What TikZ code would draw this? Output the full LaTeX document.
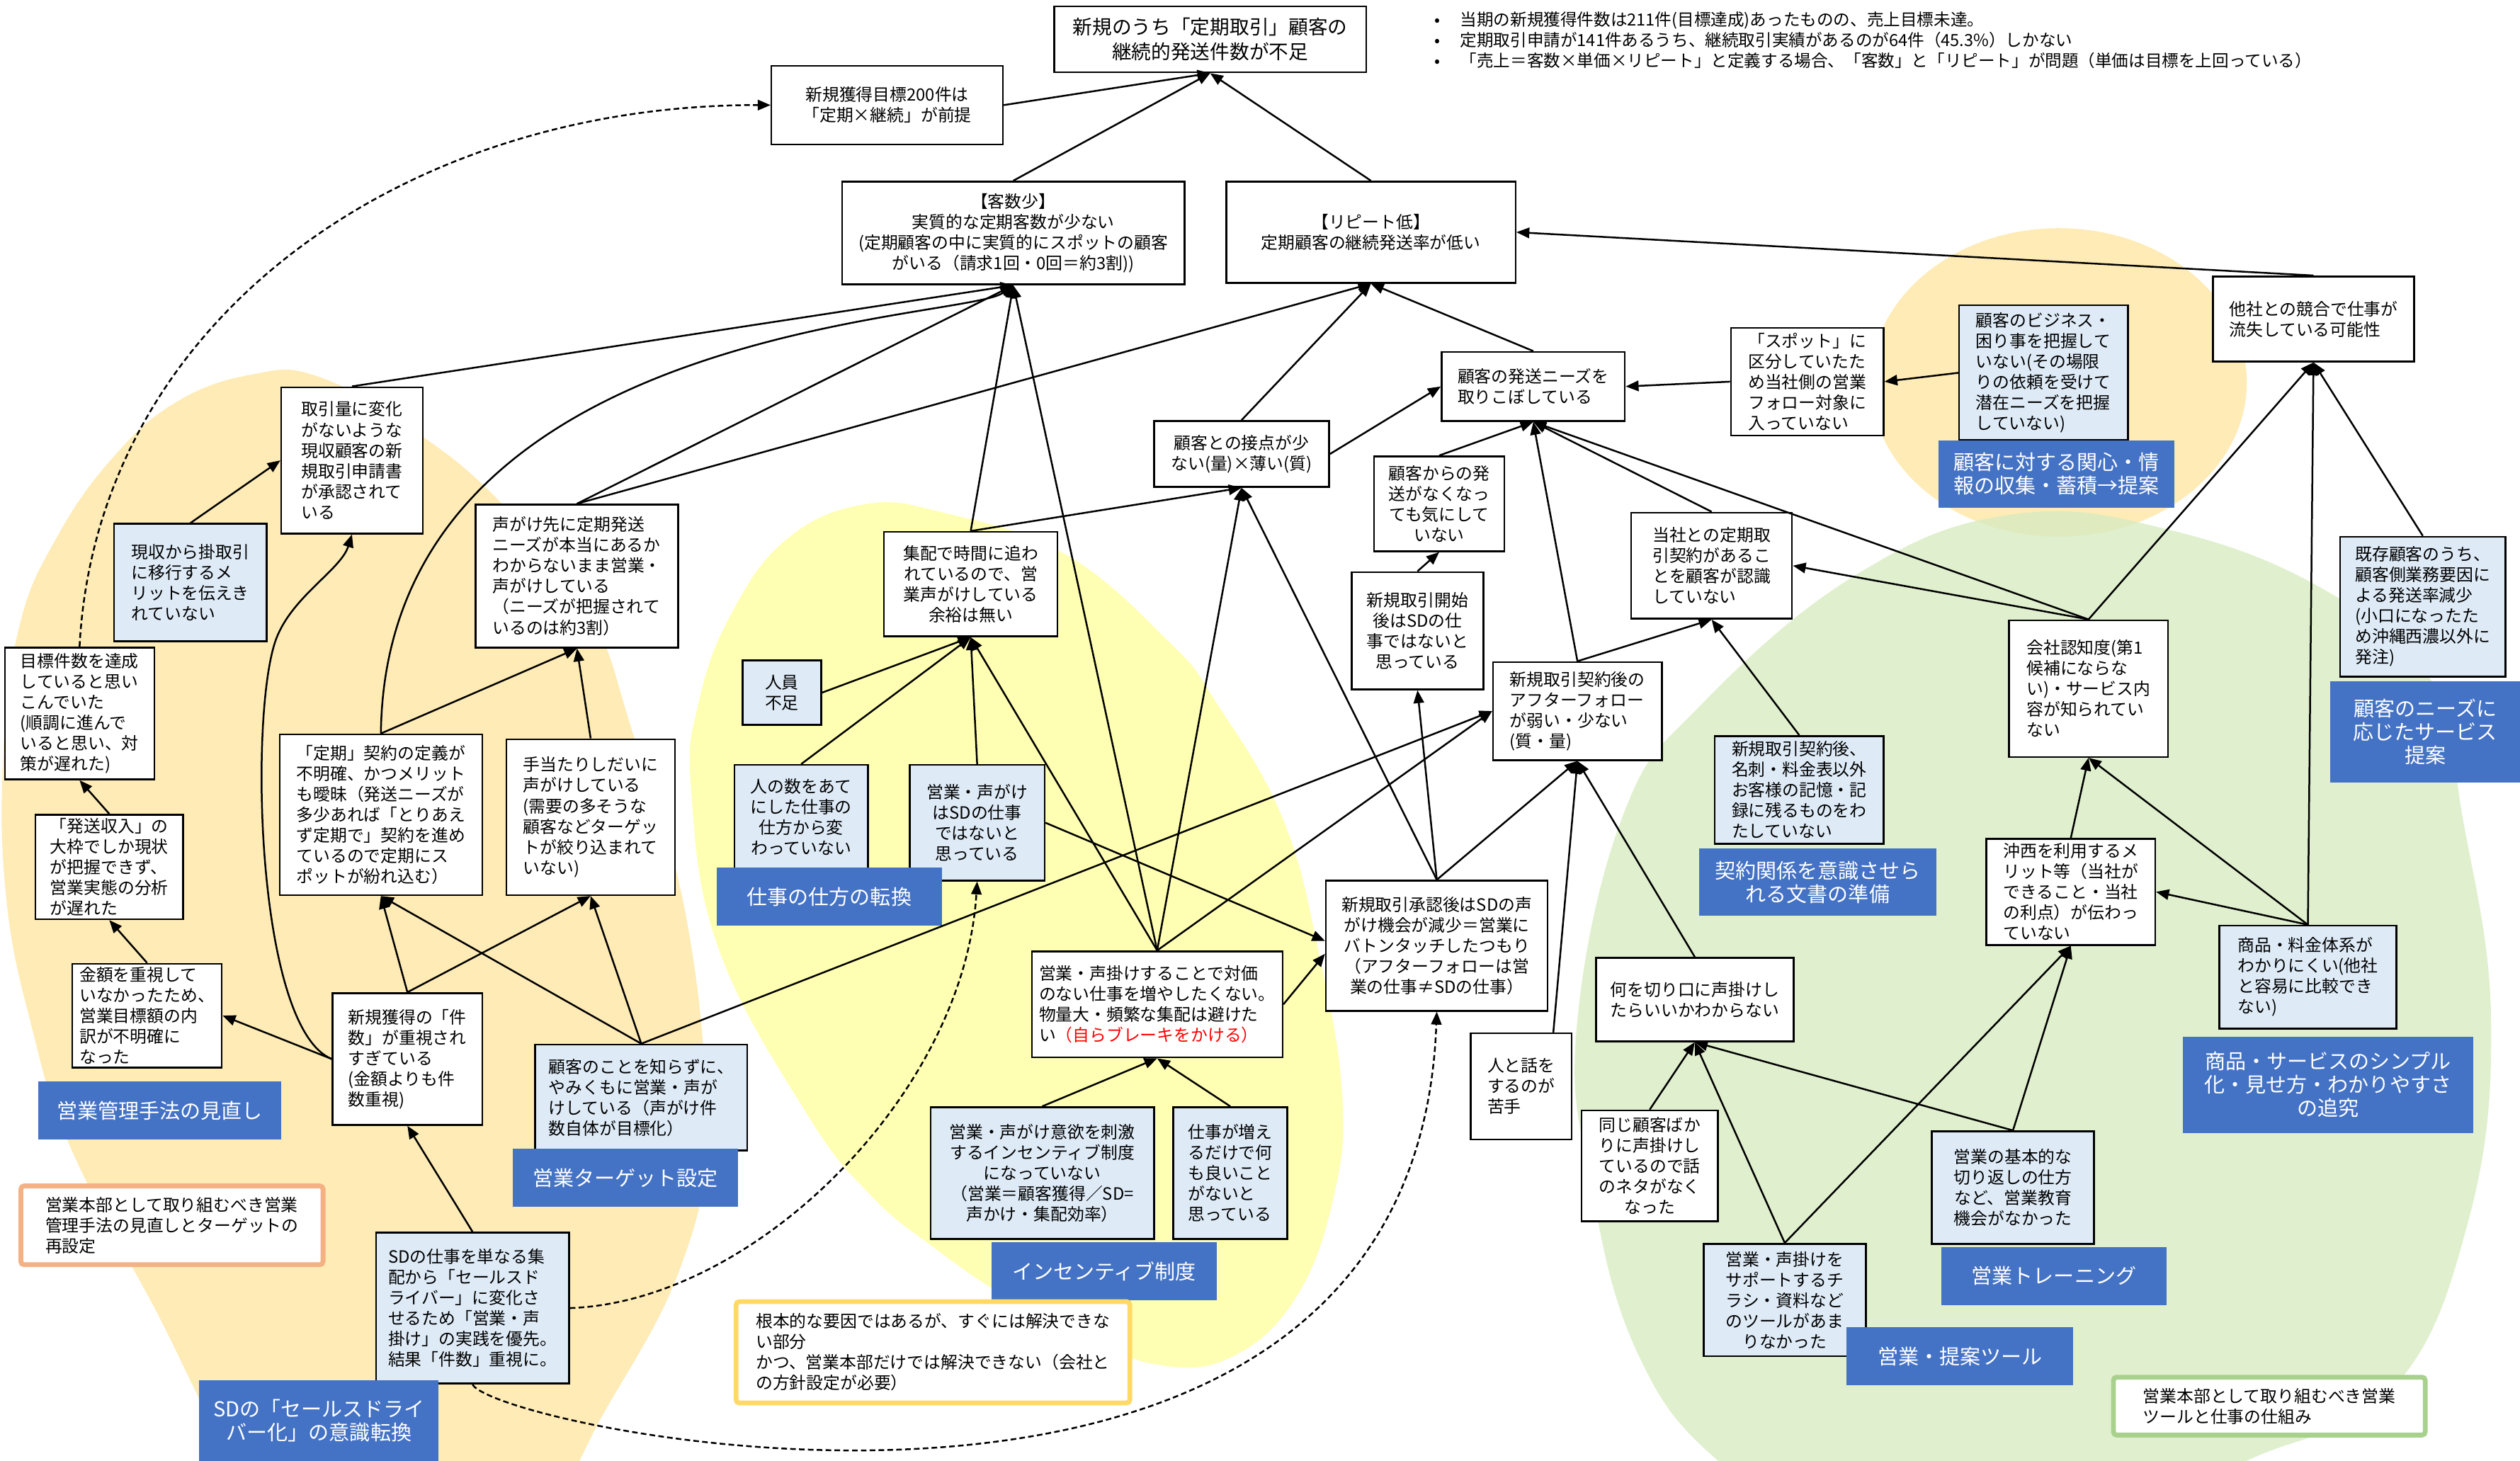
\documentclass[tikz,border=0pt]{standalone}
\usepackage{fontspec}
\setmainfont{Noto Sans CJK JP}
\usetikzlibrary{arrows.meta}
\definecolor{factorblue}{HTML}{DEEBF7}
\definecolor{measureblue}{HTML}{4472C4}
\definecolor{blobgold}{HTML}{FEEBB6}
\definecolor{blobyellow}{HTML}{FFFFB3}
\definecolor{blobgreen}{HTML}{D8ECC2}
\definecolor{memoorange}{HTML}{F4B183}
\definecolor{memoyellow}{HTML}{FFD966}
\definecolor{memogreen}{HTML}{A9D18E}
\tikzset{
  cause/.style={
    draw=black, line width=1.1pt, fill=white,
    inner sep=2pt, align=left,
    font=\fontsize{10.5}{12.8}\selectfont
  },
  factor/.style={cause, fill=factorblue},
  measure/.style={
    fill=measureblue, text=white, inner sep=2pt, align=center,
    font=\fontsize{12.8}{14.6}\selectfont
  },
  memo/.style={
    draw=#1, line width=3pt, fill=white, rounded corners=2pt,
    inner sep=3pt, align=left,
    font=\fontsize{10.5}{12.8}\selectfont
  },
  boxsize/.style 2 args={minimum width=#1pt, minimum height=#2pt}
}

\begin{document}
\begin{tikzpicture}[x=1pt, y=-1pt, line width=1.1pt, >={Triangle[length=8pt,width=6.5pt]}]
  \useasboundingbox (0,0) rectangle (1568,909);
  \clip (0,0) rectangle (1568,909);

  % background areas
  \fill[blobgold] plot[smooth cycle, tension=0.7] coordinates {(157,233) (197,234) (253,265) (309,310) (365,378) (394,457) (427,571) (439,702) (424,787) (377,877) (330,950) (250,975) (170,945) (93,808) (43,712) (20,640) (4,560) (2,470) (12,390) (35,335) (70,285) (110,250)};
  \fill[blobyellow] plot[smooth cycle, tension=0.7] coordinates {(537,314) (587,319) (663,345) (728,400) (756,436) (798,509) (821,595) (835,680) (830,744) (806,808) (765,845) (719,849) (672,830) (626,807) (582,777) (542,744) (502,693) (447,590) (430,491) (435,436) (455,382) (489,336)};
  \fill[blobgold] (1281,238) ellipse [x radius=117pt, y radius=96pt];
  \fill[blobgreen, fill opacity=0.8] plot[smooth cycle, tension=0.7] coordinates {(1253,320) (1351,330) (1448,368) (1513,424) (1532,507) (1550,635) (1535,763) (1487,866) (1398,909) (1300,955) (1150,955) (1069,909) (1018,840) (990,737) (981,640) (1010,507) (1059,438) (1156,357)};

  % top
  \node[cause, boxsize={194}{41}, align=center, font=\fontsize{12.2}{15.2}\selectfont] (goal) at (753,24.5) {新規のうち「定期取引」顧客の\\継続的発送件数が不足};
  \node[anchor=north west, inner sep=0pt, align=left, font=\fontsize{10.4}{12.7}\selectfont] (facts) at (892,7)
    {\makebox[16pt][l]{•}当期の新規獲得件数は211件(目標達成)あったものの、売上目標未達。\\
     \makebox[16pt][l]{•}定期取引申請が141件あるうち、継続取引実績があるのが64件（45.3\%）しかない\\
     \makebox[16pt][l]{•}「売上＝客数×単価×リピート」と定義する場合、「客数」と「リピート」が問題（単価は目標を上回っている）};
  \node[cause, boxsize={144}{49}, align=center] (premise) at (552,65.4) {新規獲得目標200件は\\「定期×継続」が前提};
  \node[cause, boxsize={213}{64}, align=center] (custfew) at (630.5,145) {【客数少】\\実質的な定期客数が少ない\\(定期顧客の中に実質的にスポットの顧客\\がいる（請求1回・0回＝約3割))};
  \node[cause, boxsize={180}{63}, align=center] (repeatlow) at (853,144.5) {【リピート低】\\定期顧客の継続発送率が低い};

  % left area
  \node[cause, boxsize={88}{91}] (volume) at (219,286.5) {取引量に変化\\がないような\\現収顧客の新\\規取引申請書\\が承認されて\\いる};
  \node[factor, boxsize={95}{73}] (cashmerit) at (118.5,362.5) {現収から掛取引\\に移行するメ\\リットを伝えき\\れていない};
  \node[cause, boxsize={126}{89}] (needunknown) at (359,358.5) {声がけ先に定期発送\\ニーズが本当にあるか\\わからないまま営業・\\声がけしている\\（ニーズが把握されて\\いるのは約3割）};
  \node[cause, boxsize={93}{82}] (believed) at (49.5,444) {目標件数を達成\\していると思い\\こんでいた\\(順調に進んで\\いると思い、対\\策が遅れた)};
  \node[cause, boxsize={126}{100}] (definition) at (237,507) {「定期」契約の定義が\\不明確、かつメリット\\も曖昧（発送ニーズが\\多少あれば「とりあえ\\ず定期で」契約を進め\\ているので定期にス\\ポットが紛れ込む）};
  \node[cause, boxsize={105}{97}] (random) at (367.5,508.5) {手当たりしだいに\\声がけしている\\(需要の多そうな\\顧客などターゲッ\\トが絞り込まれて\\いない)};
  \node[cause, boxsize={92}{65}] (revenue) at (68,539.5) {「発送収入」の\\大枠でしか現状\\が把握できず、\\営業実態の分析\\が遅れた};
  \node[cause, boxsize={93}{64}] (amount) at (91.5,632) {金額を重視して\\いなかったため、\\営業目標額の内\\訳が不明確に\\なった};
  \node[cause, boxsize={93}{82}] (count) at (253.5,659) {新規獲得の「件\\数」が重視され\\すぎている\\(金額よりも件\\数重視)};
  \node[factor, boxsize={132}{66}] (blind) at (399,683) {顧客のことを知らずに、\\やみくもに営業・声が\\けしている（声がけ件\\数自体が目標化）};
  \node[factor, boxsize={120}{94}] (sdrole) at (294,814) {SDの仕事を単なる集\\配から「セールスド\\ライバー」に変化さ\\せるため「営業・声\\掛け」の実践を優先。\\結果「件数」重視に。};
  \node[measure, boxsize={151}{36}] (mgmt) at (99.5,691) {営業管理手法の見直し};
  \node[measure, boxsize={140}{36}] (target) at (389,733) {営業ターゲット設定};
  \node[memo=memoorange, boxsize={188}{49}] (memoleft) at (107,762.5) {営業本部として取り組むべき営業\\管理手法の見直しとターゲットの\\再設定};
  \node[measure, boxsize={149}{50}] (sdlabel) at (198.5,884) {SDの「セールスドライ\\バー化」の意識転換};

  % middle area
  \node[cause, boxsize={108}{65}, align=center] (pickup) at (604,363.5) {集配で時間に追わ\\れているので、営\\業声がけしている\\余裕は無い};
  \node[factor, boxsize={49}{40}, align=center] (staff) at (486.5,431) {人員\\不足};
  \node[factor, boxsize={83}{65}, align=center] (headcount) at (498.5,508.5) {人の数をあて\\にした仕事の\\仕方から変\\わっていない};
  \node[factor, boxsize={84}{72}, align=center] (notsd) at (608,512) {営業・声がけ\\はSDの仕事\\ではないと\\思っている};
  \node[measure, boxsize={140}{36}] (worklabel) at (516,558) {仕事の仕方の転換};
  \node[cause, boxsize={156}{66}] (brake) at (720,625) {営業・声掛けすることで対価\\のない仕事を増やしたくない。\\物量大・頻繁な集配は避けた\\い\textcolor{red}{（自らブレーキをかける）}};
  \node[factor, boxsize={139}{82}, align=center] (incentive) at (648.5,730) {営業・声がけ意欲を刺激\\するインセンティブ制度\\になっていない\\（営業＝顧客獲得／SD=\\声かけ・集配効率）};
  \node[factor, boxsize={71}{82}] (nomerit) at (765.5,730) {仕事が増え\\るだけで何\\も良いこと\\がないと\\思っている};
  \node[measure, boxsize={140}{36}] (incentivelabel) at (687,791) {インセンティブ制度};
  \node[memo=memoyellow, boxsize={245}{63}] (memomid) at (580.5,841.5) {根本的な要因ではあるが、すぐには解決できな\\い部分\\かつ、営業本部だけでは解決できない（会社と\\の方針設定が必要）};
  \node[cause, boxsize={109}{41}, align=center] (contact) at (772.5,282.5) {顧客との接点が少\\ない(量)×薄い(質)};
  \node[cause, boxsize={114}{43}] (missneeds) at (954,240.5) {顧客の発送ニーズを\\取りこぼしている};
  \node[cause, boxsize={81}{59}, align=center] (nocare) at (895.5,313.5) {顧客からの発\\送がなくなっ\\ても気にして\\いない};
  \node[cause, boxsize={82}{73}, align=center] (afterstart) at (882,392.5) {新規取引開始\\後はSDの仕\\事ではないと\\思っている};
  \node[cause, boxsize={105}{61}] (follow) at (981.5,442.5) {新規取引契約後の\\アフターフォロー\\が弱い・少ない\\(質・量)};
  \node[cause, boxsize={138}{81}, align=center] (handover) at (894,588.5) {新規取引承認後はSDの声\\がけ機会が減少＝営業に\\バトンタッチしたつもり\\（アフターフォローは営\\業の仕事≠SDの仕事）};
  \node[cause, boxsize={63}{66}] (talk) at (946.5,676) {人と話を\\するのが\\苦手};

  % right area
  \node[cause, boxsize={100}{66}] (unaware) at (1065,352) {当社との定期取\\引契約があるこ\\とを顧客が認識\\していない};
  \node[cause, boxsize={95}{67}] (spot) at (1124.5,237.5) {「スポット」に\\区分していたた\\め当社側の営業\\フォロー対象に\\入っていない};
  \node[factor, boxsize={105}{84}] (business) at (1271.5,232) {顧客のビジネス・\\困り事を把握して\\いない(その場限\\りの依頼を受けて\\潜在ニーズを把握\\していない)};
  \node[measure, boxsize={147}{42}] (interestlabel) at (1279.5,295) {顧客に対する関心・情\\報の収集・蓄積→提案};
  \node[cause, boxsize={125}{53}] (rival) at (1439.5,198.5) {他社との競合で仕事が\\流失している可能性};
  \node[factor, boxsize={103}{87}] (existing) at (1507.5,377.5) {既存顧客のうち、\\顧客側業務要因に\\よる発送率減少\\(小口になったた\\め沖縄西濃以外に\\発注)};
  \node[measure, boxsize={118}{63}] (needslabel) at (1509,455.5) {顧客のニーズに\\応じたサービス\\提案};
  \node[cause, boxsize={99}{85}] (awareness) at (1299.5,428.5) {会社認知度(第1\\候補にならな\\い)・サービス内\\容が知られてい\\ない};
  \node[factor, boxsize={105}{67}] (docs) at (1119.5,491.5) {新規取引契約後、\\名刺・料金表以外\\お客様の記憶・記\\録に残るものをわ\\たしていない};
  \node[measure, boxsize={148}{42}] (docslabel) at (1131,549) {契約関係を意識させら\\れる文書の準備};
  \node[cause, boxsize={123}{52}, align=center] (opener) at (1054.5,622) {何を切り口に声掛けし\\たらいいかわからない};
  \node[cause, boxsize={85}{69}, align=center] (samecust) at (1026.5,725.5) {同じ顧客ばか\\りに声掛けし\\ているので話\\のネタがなく\\なった};
  \node[factor, boxsize={101}{70}, align=center] (tools) at (1110.5,809) {営業・声掛けを\\サポートするチ\\ラシ・資料など\\のツールがあま\\りなかった};
  \node[cause, boxsize={105}{66}] (merit) at (1288.5,555) {沖西を利用するメ\\リット等（当社が\\できること・当社\\の利点）が伝わっ\\ていない};
  \node[factor, boxsize={110}{64}] (pricing) at (1436,608) {商品・料金体系が\\わかりにくい(他社\\と容易に比較でき\\ない)};
  \node[measure, boxsize={181}{60}] (simplelabel) at (1448.5,675) {商品・サービスのシンプル\\化・見せ方・わかりやすさ\\の追究};
  \node[factor, boxsize={101}{70}, align=center] (basics) at (1252.5,739) {営業の基本的な\\切り返しの仕方\\など、営業教育\\機会がなかった};
  \node[measure, boxsize={140}{36}] (traininglabel) at (1278,794) {営業トレーニング};
  \node[measure, boxsize={141}{36}] (toollabel) at (1219.5,844) {営業・提案ツール};
  \node[memo=memogreen, boxsize={194}{36}] (memoright) at (1412,875) {営業本部として取り組むべき営業\\ツールと仕事の仕組み};

  \path[->]
  (premise.east) edge (goal.south)
  (custfew.north) edge (goal.south)
  (repeatlow.north) edge (goal.south)
  (volume.north) edge (custfew.south)
  (needunknown.north) edge (custfew.south)
  (pickup.north) edge (custfew.south)
  (brake.north) edge (custfew.south)
  (needunknown.north) edge (repeatlow.south)
  (contact.north) edge (repeatlow.south)
  (missneeds.north) edge (repeatlow.south)
  (rival.north) edge (repeatlow.east)
  (cashmerit.north) edge (volume.west)
  (definition.north) edge (needunknown.south)
  (random.north) edge (needunknown.south)
  (revenue.north) edge (believed.south)
  (amount.north) edge (revenue.south)
  (count.west) edge (amount.east)
  (count.north) edge (definition.south)
  (count.north) edge (random.south)
  (blind.north) edge (definition.south)
  (blind.north) edge (random.south)
  (blind.north) edge (follow.west)
  (sdrole.north) edge (count.south)
  (staff.east) edge (pickup.south)
  (headcount.north) edge (pickup.south)
  (notsd.north) edge (pickup.south)
  (brake.north) edge (pickup.south)
  (pickup.north) edge (contact.south)
  (brake.north) edge (contact.south)
  (brake.north) edge (follow.west)
  (notsd.east) edge ([yshift=3pt]handover.west)
  (brake.east) edge ([yshift=-5pt]handover.west)
  (incentive.north) edge (brake.south)
  (nomerit.north) edge (brake.south)
  (handover.north) edge (contact.south)
  (handover.north) edge (afterstart.south)
  (handover.north) edge (follow.south)
  (afterstart.north) edge (nocare.south)
  (nocare.north) edge (missneeds.south)
  (follow.north) edge (missneeds.south)
  (follow.north) edge (unaware.south)
  (unaware.north) edge (missneeds.south)
  (awareness.north) edge (missneeds.south)
  (awareness.north) edge (unaware.east)
  (docs.north) edge (unaware.south)
  (spot.west) edge (missneeds.east)
  (business.west) edge (spot.east)
  (contact.east) edge (missneeds.west)
  ([xshift=20pt]talk.north) edge (follow.south)
  (opener.north) edge (follow.south)
  (samecust.north) edge (opener.south)
  (tools.north) edge (opener.south)
  (basics.north) edge (opener.south)
  (tools.north) edge (merit.south)
  (basics.north) edge (merit.south)
  (pricing.north) edge (merit.east)
  (merit.north) edge (awareness.south)
  (pricing.north) edge (awareness.south)
  (awareness.north) edge (rival.south)
  (pricing.north) edge (rival.south)
  (existing.north) edge (rival.south);

  \draw[->] (definition.north) .. controls (240,200) and (600,200) .. (custfew.south);
  \draw[->] (count.west) .. controls (160,640) and (155,450) .. (171,400) .. controls (180,372) and (212,355) .. (volume.south);
  \draw[->, dash pattern=on 3.5pt off 2pt] (believed.north) .. controls (60,200) and (250,65) .. (premise.west);
  \draw[->, dash pattern=on 3.5pt off 2pt] (sdrole.east) .. controls (470,810) and (600,680) .. (notsd.south);
  \draw[->, dash pattern=on 3.5pt off 2pt] (sdrole.south) .. controls (310,890) and (880,1010) .. (handover.south);
\end{tikzpicture}
\end{document}
